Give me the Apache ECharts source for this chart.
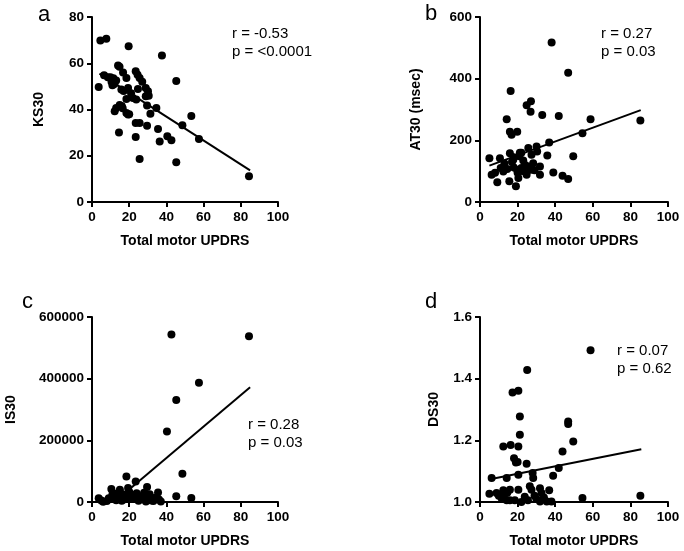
<!DOCTYPE html>
<html>
<head>
<meta charset="utf-8">
<script src="https://cdn.jsdelivr.net/npm/echarts@6/dist/echarts.min.js"></script>
<style>html,body{margin:0;padding:0;background:#fff}#c{width:684px;height:551px}</style>
</head>
<body>
<div id="c"></div>
<script>
// ---- data ----
var xTicks = [0, 20, 40, 60, 80, 100];
var pointsA = [[3.6,49.7],[4.5,69.8],[7.7,70.6],[6.5,54.8],[8.5,54],[9.9,54],[10.5,52],[11,50.5],[12,51],[13,52.5],[11.5,53.5],[14,59],[14.8,58.5],[16.7,56],[19.7,67.3],[18.5,53.6],[15.8,48.6],[19.4,49.3],[17,48],[13,40.6],[12.2,39.2],[14.9,42],[16,41.5],[18.5,44.5],[18.5,38.5],[19.4,37.8],[14.5,30.1],[23.5,56.5],[25.6,53.6],[24.5,55],[23.8,44.3],[24.7,48.9],[23.5,34.2],[25.6,34.2],[23.5,28.1],[25.6,18.6],[28.9,49.3],[30.1,47.9],[28.9,45.7],[29.6,41.7],[29.6,33],[31.4,38.2],[34.6,40.6],[35.5,31.6],[36.4,26.2],[37.6,63.3],[40.5,28.4],[42.7,26.7],[45.3,52.3],[45.3,17.2],[48.6,33.2],[53.4,37.2],[57.5,27.2],[84.4,11.1],[21,47],[27,52],[30.5,46],[20,38],[16.5,40.5],[22,45]];
var lineA = [[4,55.5],[85,13.7]];
var pointsB = [[5,142],[6.2,88],[9.2,64],[10.6,142],[8,95],[12.4,99],[14.5,107],[14.2,268],[16.3,360],[15.9,228],[16.8,218],[19.8,228],[15.9,158],[15.6,67],[17.7,137],[19.1,51],[19.8,104],[20.4,78],[21.2,160],[20.9,148],[24.8,314],[27.1,327],[26.9,293],[25.7,175],[24.8,88],[27.4,153],[28.3,126],[30.1,180],[30.4,164],[31.9,115],[31.9,88],[33.1,282],[35.8,151],[36.8,193],[38.1,517],[39,96],[41.9,279],[43.9,85],[46.9,75],[46.9,419],[49.6,148],[54.5,223],[58.8,268],[85.3,264],[23,135],[22,110],[18,112],[11,110],[13,125],[26,115],[29,103],[24,120],[17,130],[20,95],[23,100],[27,105],[18,145],[22,160]];
var lineB = [[5,118],[85.5,298]];
var pointsC = [[42.7,543000],[84.4,537500],[57.5,386700],[45.3,330700],[40.3,228400],[48.6,91600],[45.3,18300],[53.4,12900],[18.5,83000],[23.5,66800],[19.4,45200],[10.4,42000],[29.6,48500],[35.5,31200],[14,29000],[16.5,25000],[3.6,12000],[5,5000],[8,3000],[10,10000],[12,18000],[15,15000],[17,8000],[19.5,20000],[21,12000],[24,14000],[25,4000],[27,9000],[29,2000],[30,15000],[32,5000],[34,14000],[36,8000],[37,2000],[13,6000],[11,25000],[20,33000],[22,22000],[26,18000],[31,25000],[15,40000],[18,12000],[28,30000],[6,1000],[9,12000],[16,4000],[24,28000],[33,3000]];
var lineC = [[12,0],[85,372000]];
var pointsD = [[58.8,1.492],[25.1,1.428],[20.4,1.361],[17.3,1.355],[21.2,1.277],[21.2,1.218],[12.4,1.18],[16.3,1.185],[20.4,1.18],[18.1,1.142],[19.1,1.128],[20,1.13],[24.8,1.124],[46.9,1.261],[46.9,1.253],[49.6,1.196],[43.9,1.164],[41.9,1.11],[38.9,1.085],[20.4,1.088],[28,1.094],[28.3,1.078],[14.2,1.078],[6.2,1.078],[5,1.027],[8.8,1.029],[12.4,1.038],[15.9,1.04],[20.4,1.04],[26.5,1.051],[27.4,1.04],[31.9,1.045],[36.8,1.038],[32.7,1.029],[11.5,1.012],[14.2,1.006],[15.9,1.006],[18.5,1.006],[23.8,1.017],[25.5,1.006],[30,1.01],[31.9,1.002],[35.5,1.002],[38,1.002],[54.5,1.013],[85.3,1.02],[10,1.02],[13,1.025],[14.5,1.03],[29,1.02],[22,1.0],[34,1.015]];
var lineD = [[5.3,1.074],[85.8,1.171]];
var yNames = ['KS30', 'AT30 (msec)', 'IS30', 'DS30'];
var yRanges = [[0,80,20],[0,600,200],[0,600000,200000],[1.0,1.6,0.2]];
var panelLetters = ['a','b','c','d'];
var statsR = ['r = -0.53','r = 0.27','r = 0.28','r = 0.07'];
var statsP = ['p = <0.0001','p = 0.03','p = 0.03','p = 0.62'];
var xName = 'Total motor UPDRS';

// ---- layout ----
var FONT = 'Liberation Sans, Arial, Helvetica, sans-serif';
var grids = [
  {left: 92, top: 17, width: 186, height: 185},
  {left: 480, top: 17, width: 188, height: 185},
  {left: 92, top: 317, width: 186, height: 185},
  {left: 480, top: 317, width: 188, height: 185}
];
var yNameGaps = [46, 57, 74, 39];
var letterPos = [[38,4],[425,3],[22,291],[425,291]];
var statPos = [[232,25],[601,25],[248,416],[617,342]];
var pointSets = [pointsA, pointsB, pointsC, pointsD];
var lineSets = [lineA, lineB, lineC, lineD];

var tickStyle = {show: true, length: 5, lineStyle: {color: '#000', width: 2}};

var xAxes = [], yAxes = [], series = [], graphics = [];
for (var i = 0; i < 4; i++) {
  xAxes.push({
    type: 'value', gridIndex: i, min: xTicks[0], max: xTicks[xTicks.length-1], interval: 20,
    axisLine: {show: true, onZero: false, lineStyle: {color: '#000', width: 2}},
    axisTick: tickStyle, splitLine: {show: false},
    axisLabel: {color: '#000', fontSize: 13.5, fontWeight: 'bold', fontFamily: FONT, margin: 8},
    name: xName, nameLocation: 'middle', nameGap: 32,
    nameTextStyle: {color: '#000', fontSize: 14, fontWeight: 'bold', fontFamily: FONT}
  });
  (function(idx){
    yAxes.push({
      type: 'value', gridIndex: idx, min: yRanges[idx][0], max: yRanges[idx][1], interval: yRanges[idx][2],
      axisLine: {show: true, onZero: false, lineStyle: {color: '#000', width: 2}},
      axisTick: tickStyle, splitLine: {show: false},
      axisLabel: {color: '#000', fontSize: 13.5, fontWeight: 'bold', fontFamily: FONT, margin: 8,
        formatter: function(v){ return idx === 3 ? v.toFixed(1) : String(Math.round(v)); }},
      name: yNames[idx], nameLocation: 'middle', nameGap: yNameGaps[idx], nameRotate: 90,
      nameTextStyle: {color: '#000', fontSize: 14, fontWeight: 'bold', fontFamily: FONT}
    });
  })(i);
  series.push({
    type: 'scatter', xAxisIndex: i, yAxisIndex: i, data: pointSets[i],
    symbol: 'circle', symbolSize: 8, itemStyle: {color: '#000', opacity: 1}, silent: true
  });
  series.push({
    type: 'line', xAxisIndex: i, yAxisIndex: i, data: lineSets[i],
    symbol: 'none', lineStyle: {color: '#000', width: 2}, silent: true
  });
  graphics.push({type: 'text', left: letterPos[i][0], top: letterPos[i][1],
    style: {text: panelLetters[i], fontSize: 22, fontFamily: FONT, fill: '#000'}});
  graphics.push({type: 'text', left: statPos[i][0], top: statPos[i][1],
    style: {text: statsR[i] + '\n' + statsP[i], fontSize: 15, lineHeight: 18, fontFamily: FONT, fill: '#000'}});
}

var chart = echarts.init(document.getElementById('c'));
chart.setOption({
  animation: false,
  backgroundColor: '#fff',
  grid: grids,
  xAxis: xAxes,
  yAxis: yAxes,
  series: series,
  graphic: graphics
});
</script>
</body>
</html>
